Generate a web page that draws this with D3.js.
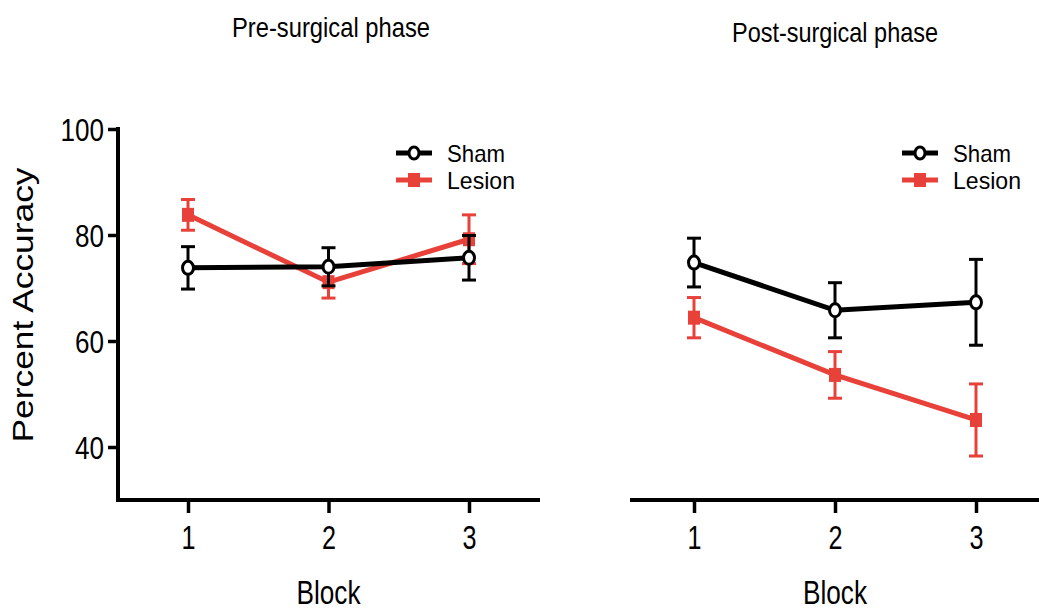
<!DOCTYPE html>
<html>
<head>
<meta charset="utf-8">
<script src="https://cdn.jsdelivr.net/npm/d3@7"></script>
<style>
  html, body { margin: 0; padding: 0; background: #fff; }
  svg { display: block; }
  text { font-family: "Liberation Sans", Arial, sans-serif; fill: #000; }
</style>
</head>
<body>
<svg id="chart" width="1039" height="610"></svg>
<script>
// Blocks on the x axis
const blocks = [1, 2, 3];
const yTicks = [40, 60, 80, 100];
const seriesNames = ["Sham", "Lesion"];
const phaseTitles = ["Pre-surgical phase", "Post-surgical phase"];

// Mean percent accuracy and error (± SEM) per block
const preSham = [73.8, 74.0, 75.7];
const preShamErr = [4.0, 3.6, 4.2];
const preLesion = [83.8, 71.1, 79.2];
const preLesionErr = [2.9, 3.0, 4.6];

const postSham = [74.8, 65.8, 67.3];
const postShamErr = [4.6, 5.2, 8.1];
const postLesion = [64.4, 53.6, 45.1];
const postLesionErr = [3.8, 4.4, 6.8];

const RED = "#e8413a";
const svg = d3.select("#chart");

const y = d3.scaleLinear().domain([30, 100]).range([500, 129]);

const panels = [
  { title: phaseTitles[0], titleX: 331, titleY: 37, titleLen: 198,
    x: d3.scaleLinear().domain([1, 3]).range([188, 469]),
    axisStart: 118, axisEnd: 540, yAxis: true, legendX: 396,
    sham: preSham, shamErr: preShamErr, lesion: preLesion, lesionErr: preLesionErr },
  { title: phaseTitles[1], titleX: 835, titleY: 42, titleLen: 206,
    x: d3.scaleLinear().domain([1, 3]).range([694, 976]),
    axisStart: 630, axisEnd: 1039, yAxis: false, legendX: 902,
    sham: postSham, shamErr: postShamErr, lesion: postLesion, lesionErr: postLesionErr }
];

function drawSeries(g, x, vals, errs, color, marker) {
  const pts = blocks.map((b, i) => ({ b, v: vals[i], e: errs[i] }));
  const s = g.append("g");
  // error bars
  const eb = s.selectAll(".eb").data(pts).enter().append("g")
    .attr("stroke", color).attr("stroke-width", 3).attr("fill", "none");
  eb.append("line")
    .attr("x1", d => x(d.b)).attr("x2", d => x(d.b))
    .attr("y1", d => y(d.v + d.e)).attr("y2", d => y(d.v - d.e));
  eb.append("line")
    .attr("x1", d => x(d.b) - 7).attr("x2", d => x(d.b) + 7)
    .attr("y1", d => y(d.v + d.e)).attr("y2", d => y(d.v + d.e));
  eb.append("line")
    .attr("x1", d => x(d.b) - 7).attr("x2", d => x(d.b) + 7)
    .attr("y1", d => y(d.v - d.e)).attr("y2", d => y(d.v - d.e));
  // connecting line
  s.append("path").datum(pts)
    .attr("fill", "none").attr("stroke", color).attr("stroke-width", 5)
    .attr("d", d3.line().x(d => x(d.b)).y(d => y(d.v)));
  // markers
  if (marker === "circle") {
    s.selectAll(".m").data(pts).enter().append("ellipse")
      .attr("cx", d => x(d.b)).attr("cy", d => y(d.v))
      .attr("rx", 5.5).attr("ry", 6.5)
      .attr("fill", "#fff").attr("stroke", color).attr("stroke-width", 3);
  } else {
    s.selectAll(".m").data(pts).enter().append("rect")
      .attr("x", d => x(d.b) - 6).attr("y", d => y(d.v) - 7)
      .attr("width", 12).attr("height", 14).attr("fill", color);
  }
}

panels.forEach(p => {
  const g = svg.append("g");

  // title
  g.append("text")
    .attr("x", p.titleX).attr("y", p.titleY)
    .attr("text-anchor", "middle")
    .attr("font-family", "Lato, 'Open Sans', sans-serif")
    .attr("font-size", 28)
    .attr("textLength", p.titleLen).attr("lengthAdjust", "spacingAndGlyphs")
    .text(p.title);

  // x axis
  const xAxis = d3.axisBottom(p.x).tickValues(blocks).tickFormat(d3.format("d"))
    .tickSize(13).tickSizeOuter(0);
  const xg = g.append("g").attr("transform", "translate(0,500)").call(xAxis);
  xg.select(".domain").remove();
  xg.append("line")
    .attr("x1", p.axisStart - (p.yAxis ? 2 : 0)).attr("x2", p.axisEnd)
    .attr("y1", 0).attr("y2", 0)
    .attr("stroke", "#000").attr("stroke-width", 4);
  xg.selectAll(".tick line").attr("stroke", "#000").attr("stroke-width", 3.5);
  xg.selectAll(".tick text")
    .attr("y", 49).attr("dy", 0)
    .attr("font-size", 33)
    .attr("font-family", "'Liberation Sans', Arial, sans-serif")
    .attr("textLength", 14).attr("lengthAdjust", "spacingAndGlyphs")
    .attr("fill", "#000");

  // x axis title
  g.append("text")
    .attr("x", (p.x(1) + p.x(3)) / 2).attr("y", 604)
    .attr("text-anchor", "middle").attr("font-size", 34)
    .attr("textLength", 64).attr("lengthAdjust", "spacingAndGlyphs")
    .text("Block");

  // y axis
  if (p.yAxis) {
    const yAxis = d3.axisLeft(y).tickValues(yTicks).tickSize(10).tickSizeOuter(0);
    const yg = g.append("g").attr("transform", "translate(118,0)").call(yAxis);
    yg.select(".domain").remove();
    yg.append("line").attr("x1", 0).attr("x2", 0)
      .attr("y1", y(100) - 2).attr("y2", 502)
      .attr("stroke", "#000").attr("stroke-width", 4);
    yg.selectAll(".tick line").attr("stroke", "#000").attr("stroke-width", 3.5);
    yg.selectAll(".tick text")
      .attr("x", -14).attr("dy", "0.36em")
      .attr("font-size", 32)
      .attr("textLength", d => String(d).length * 14.5)
      .attr("lengthAdjust", "spacingAndGlyphs")
      .attr("fill", "#000");

    g.append("text")
      .attr("transform", "translate(33,305) rotate(-90)")
      .attr("text-anchor", "middle").attr("font-size", 29)
      .attr("textLength", 275).attr("lengthAdjust", "spacingAndGlyphs")
      .text("Percent Accuracy");
  }

  // data
  drawSeries(g, p.x, p.lesion, p.lesionErr, RED, "square");
  drawSeries(g, p.x, p.sham, p.shamErr, "#000", "circle");

  // legend
  const leg = g.append("g");
  const legendRows = [
    { name: seriesNames[0], color: "#000", marker: "circle", y: 153, len: 58 },
    { name: seriesNames[1], color: RED, marker: "square", y: 180, len: 68 }
  ];
  legendRows.forEach(r => {
    leg.append("line")
      .attr("x1", p.legendX).attr("x2", p.legendX + 36)
      .attr("y1", r.y).attr("y2", r.y)
      .attr("stroke", r.color).attr("stroke-width", 5);
    const cx = p.legendX + 18;
    if (r.marker === "circle") {
      leg.append("ellipse").attr("cx", cx).attr("cy", r.y).attr("rx", 5).attr("ry", 6)
        .attr("fill", "#fff").attr("stroke", r.color).attr("stroke-width", 3);
    } else {
      leg.append("rect").attr("x", cx - 6).attr("y", r.y - 7)
        .attr("width", 12).attr("height", 14).attr("fill", r.color);
    }
    leg.append("text")
      .attr("x", p.legendX + 51).attr("y", r.y + 9)
      .attr("font-size", 24)
      .attr("textLength", r.len).attr("lengthAdjust", "spacingAndGlyphs")
      .text(r.name);
  });
});
</script>
</body>
</html>
